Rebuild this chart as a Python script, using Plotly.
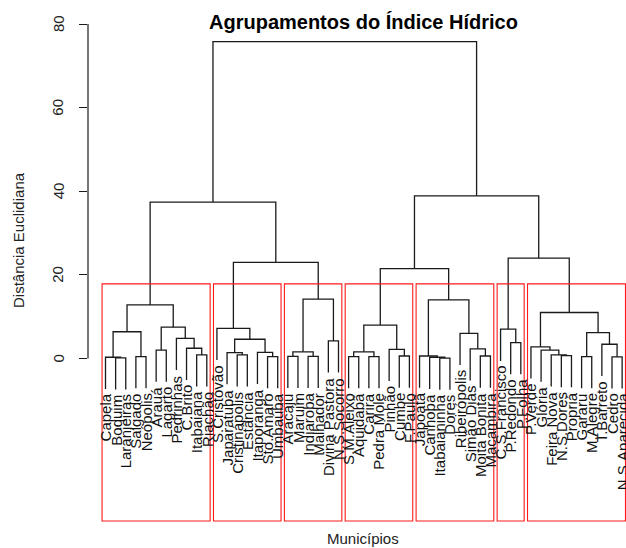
import plotly.graph_objects as go

# Municipalities in dendrogram (leaf) order
labels = [
    "Capela", "Boquim", "Laranjeiras", "Salgado", "Neópolis", "Arauá", "Lagarto",
    "Pedrinhas", "C.Brito", "Itabaiana", "Riachão",
    "S.Cristóvão", "Japaratuba", "Cristinápolis", "Estância", "Itaporanga",
    "Sto.Amaro", "Umbaúba",
    "Aracaju", "Maruim", "Indiaroba", "Malhador", "Divina Pastora", "N.S.Socorro",
    "S.M.Aleixo", "Aquidabã", "Carira", "Pedra Mole", "Pinhão", "Cumbe", "F.Paulo",
    "Japoatã", "Canhoba", "Itabaianinha", "Dores", "Ribeirópolis", "Simão Dias",
    "Moita Bonita", "Macambira",
    "C.S.Francisco", "P.Redondo", "P.Folha",
    "P.Verde", "Glória", "Feira Nova", "N.S.Dores", "Propriá", "Gararu",
    "M.Alegre", "T.Barreto", "Cedro", "N.S.Aparecida",
]

# Agglomeration steps (R hclust convention: -i = leaf i, +k = step k)
merge_left = [
    -2, -1, -4, 2, -6, -10, -9, -8, 5, 4,
    -14, -13, -17, -16, 12, -12,
    -19, -21, 17, -23, 19, 16, 10,
    -25, -27, 24, -30, -29, 26,
    -34, -33, -32, -38, -37, -36, 32, 29,
    -41, -40,
    -46, -45, -44, -43, -48, -51, -50, 44, 43, 39, 37, 23,
]
merge_right = [
    -3, 1, -5, 3, -7, -11, 6, 7, 8, 9,
    -15, 11, -18, 13, 14, 15,
    -20, -22, 18, -24, 20, 21, 22,
    -26, -28, 25, -31, 27, 28,
    -35, 30, 31, -39, 33, 34, 35, 36,
    -42, 38,
    -47, 40, 41, 42, -49, -52, 45, 46, 47, 48, 49, 50,
]
merge_height = [
    0.15, 0.3, 0.45, 6.4, 2.0, 0.85, 2.45, 4.8, 7.5, 12.8,
    0.85, 1.4, 0.45, 1.45, 4.6, 7.2,
    0.5, 0.5, 1.6, 4.2, 14.2, 23.0, 37.4,
    0.45, 0.45, 1.6, 0.6, 2.2, 8.0,
    0.1, 0.3, 0.6, 0.6, 2.3, 6.0, 14.0, 21.5,
    3.8, 7.0,
    0.7, 0.85, 2.0, 2.8, 0.45, 0.4, 3.4, 6.2, 11.0, 24.0, 38.9, 75.8,
]

n_groups = 7
y_ticks = [0, 20, 40, 60, 80]
title_text = "Agrupamentos do Índice Hídrico"
x_title = "Municípios"
y_title = "Distância Euclidiana"

FONT = "Liberation Sans, Arial, sans-serif"
W, H = 626, 548
L, R, T, B = 88, 0, 10, 27
PW, PH = W - L - R, H - T - B
px_per_leaf = 10.13
x_lo = 1 - (105.5 - L) / px_per_leaf
x_hi = x_lo + PW / px_per_leaf
y_lo, y_hi = -38.87, 83.35

hang = 0.1 * max(merge_height)
n_leaf = len(labels)

# x position of every merge node
merge_x = []
for a, b in zip(merge_left, merge_right):
    xa = -a if a < 0 else merge_x[a - 1]
    xb = -b if b < 0 else merge_x[b - 1]
    merge_x.append((xa + xb) / 2)

xs, ys = [], []
leaf_bottom = [0.0] * (n_leaf + 1)
for k, (a, b) in enumerate(zip(merge_left, merge_right)):
    h = merge_height[k]
    pts = []
    for c in (a, b):
        if c < 0:
            pts.append((-c, h - hang))
            leaf_bottom[-c] = h - hang
        else:
            pts.append((merge_x[c - 1], merge_height[c - 1]))
    (xa, ba), (xb, bb) = pts
    xs += [xa, xa, xb, xb, None]
    ys += [ba, h, h, bb, None]

fig = go.Figure()
fig.add_trace(go.Scatter(x=xs, y=ys, mode="lines",
                         line=dict(color="#1a1a1a", width=1.3),
                         hoverinfo="skip", showlegend=False))

# cut height giving n_groups clusters
desc = sorted(merge_height, reverse=True)
cut = (desc[n_groups - 2] + desc[n_groups - 1]) / 2

parent_h = {}
for k, (a, b) in enumerate(zip(merge_left, merge_right)):
    parent_h[a] = merge_height[k]
    parent_h[b] = merge_height[k]

def leaves_of(ref):
    if ref < 0:
        return [-ref]
    return leaves_of(merge_left[ref - 1]) + leaves_of(merge_right[ref - 1])

roots = []
for ref in list(range(-n_leaf, 0)) + list(range(1, len(merge_height) + 1)):
    own = 0 if ref < 0 else merge_height[ref - 1]
    if own < cut and parent_h.get(ref, 1e9) >= cut:
        roots.append(ref)

shapes = []
for ref in roots:
    lv = leaves_of(ref)
    shapes.append(dict(type="rect", xref="x", yref="paper",
                       x0=min(lv) - 0.34, x1=max(lv) + 0.33, y0=0,
                       y1=(cut - y_lo) / (y_hi - y_lo),
                       line=dict(color="#ff1a1a", width=1.1)))

# y axis line spans only the tick range
shapes.append(dict(type="line", xref="paper", yref="y", x0=0, x1=0,
                   y0=y_ticks[0], y1=y_ticks[-1],
                   line=dict(color="#1a1a1a", width=1.2)))

annotations = []
for i, name in enumerate(labels, start=1):
    annotations.append(dict(x=i, y=leaf_bottom[i], xref="x", yref="y",
                            text=name, showarrow=False, textangle=-90,
                            xanchor="center", yanchor="top", yshift=-3,
                            font=dict(family=FONT, size=15, color="#111")))

def px_to_paper(px, py):
    return (px - L) / PW, (H - B - py) / PH

# y tick labels, rotated parallel to the axis
tick_x, _ = px_to_paper(58, 0)
for v in y_ticks:
    annotations.append(dict(x=tick_x, y=v, xref="paper", yref="y", text=str(v),
                            showarrow=False, textangle=-90, xanchor="center", yanchor="middle",
                            font=dict(family=FONT, size=15, color="#222")))

tx, ty = px_to_paper(363, 22)
annotations.append(dict(x=tx, y=ty, xref="paper", yref="paper", text=f"<b>{title_text}</b>",
                        showarrow=False, xanchor="center", yanchor="middle",
                        font=dict(family=FONT, size=20, color="#000")))
mx, my = px_to_paper(363, 539)
annotations.append(dict(x=mx, y=my, xref="paper", yref="paper", text=x_title,
                        showarrow=False, xanchor="center", yanchor="middle",
                        font=dict(family=FONT, size=15, color="#222")))
ex, ey = px_to_paper(18, 240)
annotations.append(dict(x=ex, y=ey, xref="paper", yref="paper", text=y_title,
                        showarrow=False, textangle=-90, xanchor="center", yanchor="middle",
                        font=dict(family=FONT, size=15, color="#222")))

fig.update_layout(
    width=W, height=H,
    margin=dict(l=L, r=R, t=T, b=B),
    paper_bgcolor="white", plot_bgcolor="white",
    shapes=shapes, annotations=annotations,
    xaxis=dict(range=[x_lo, x_hi], visible=False),
    yaxis=dict(range=[y_lo, y_hi], tickvals=y_ticks, showticklabels=False,
               ticks="outside", ticklen=8, tickwidth=1.2, tickcolor="#1a1a1a",
               showgrid=False, zeroline=False, showline=False),
)

fig.write_html("out.html")
